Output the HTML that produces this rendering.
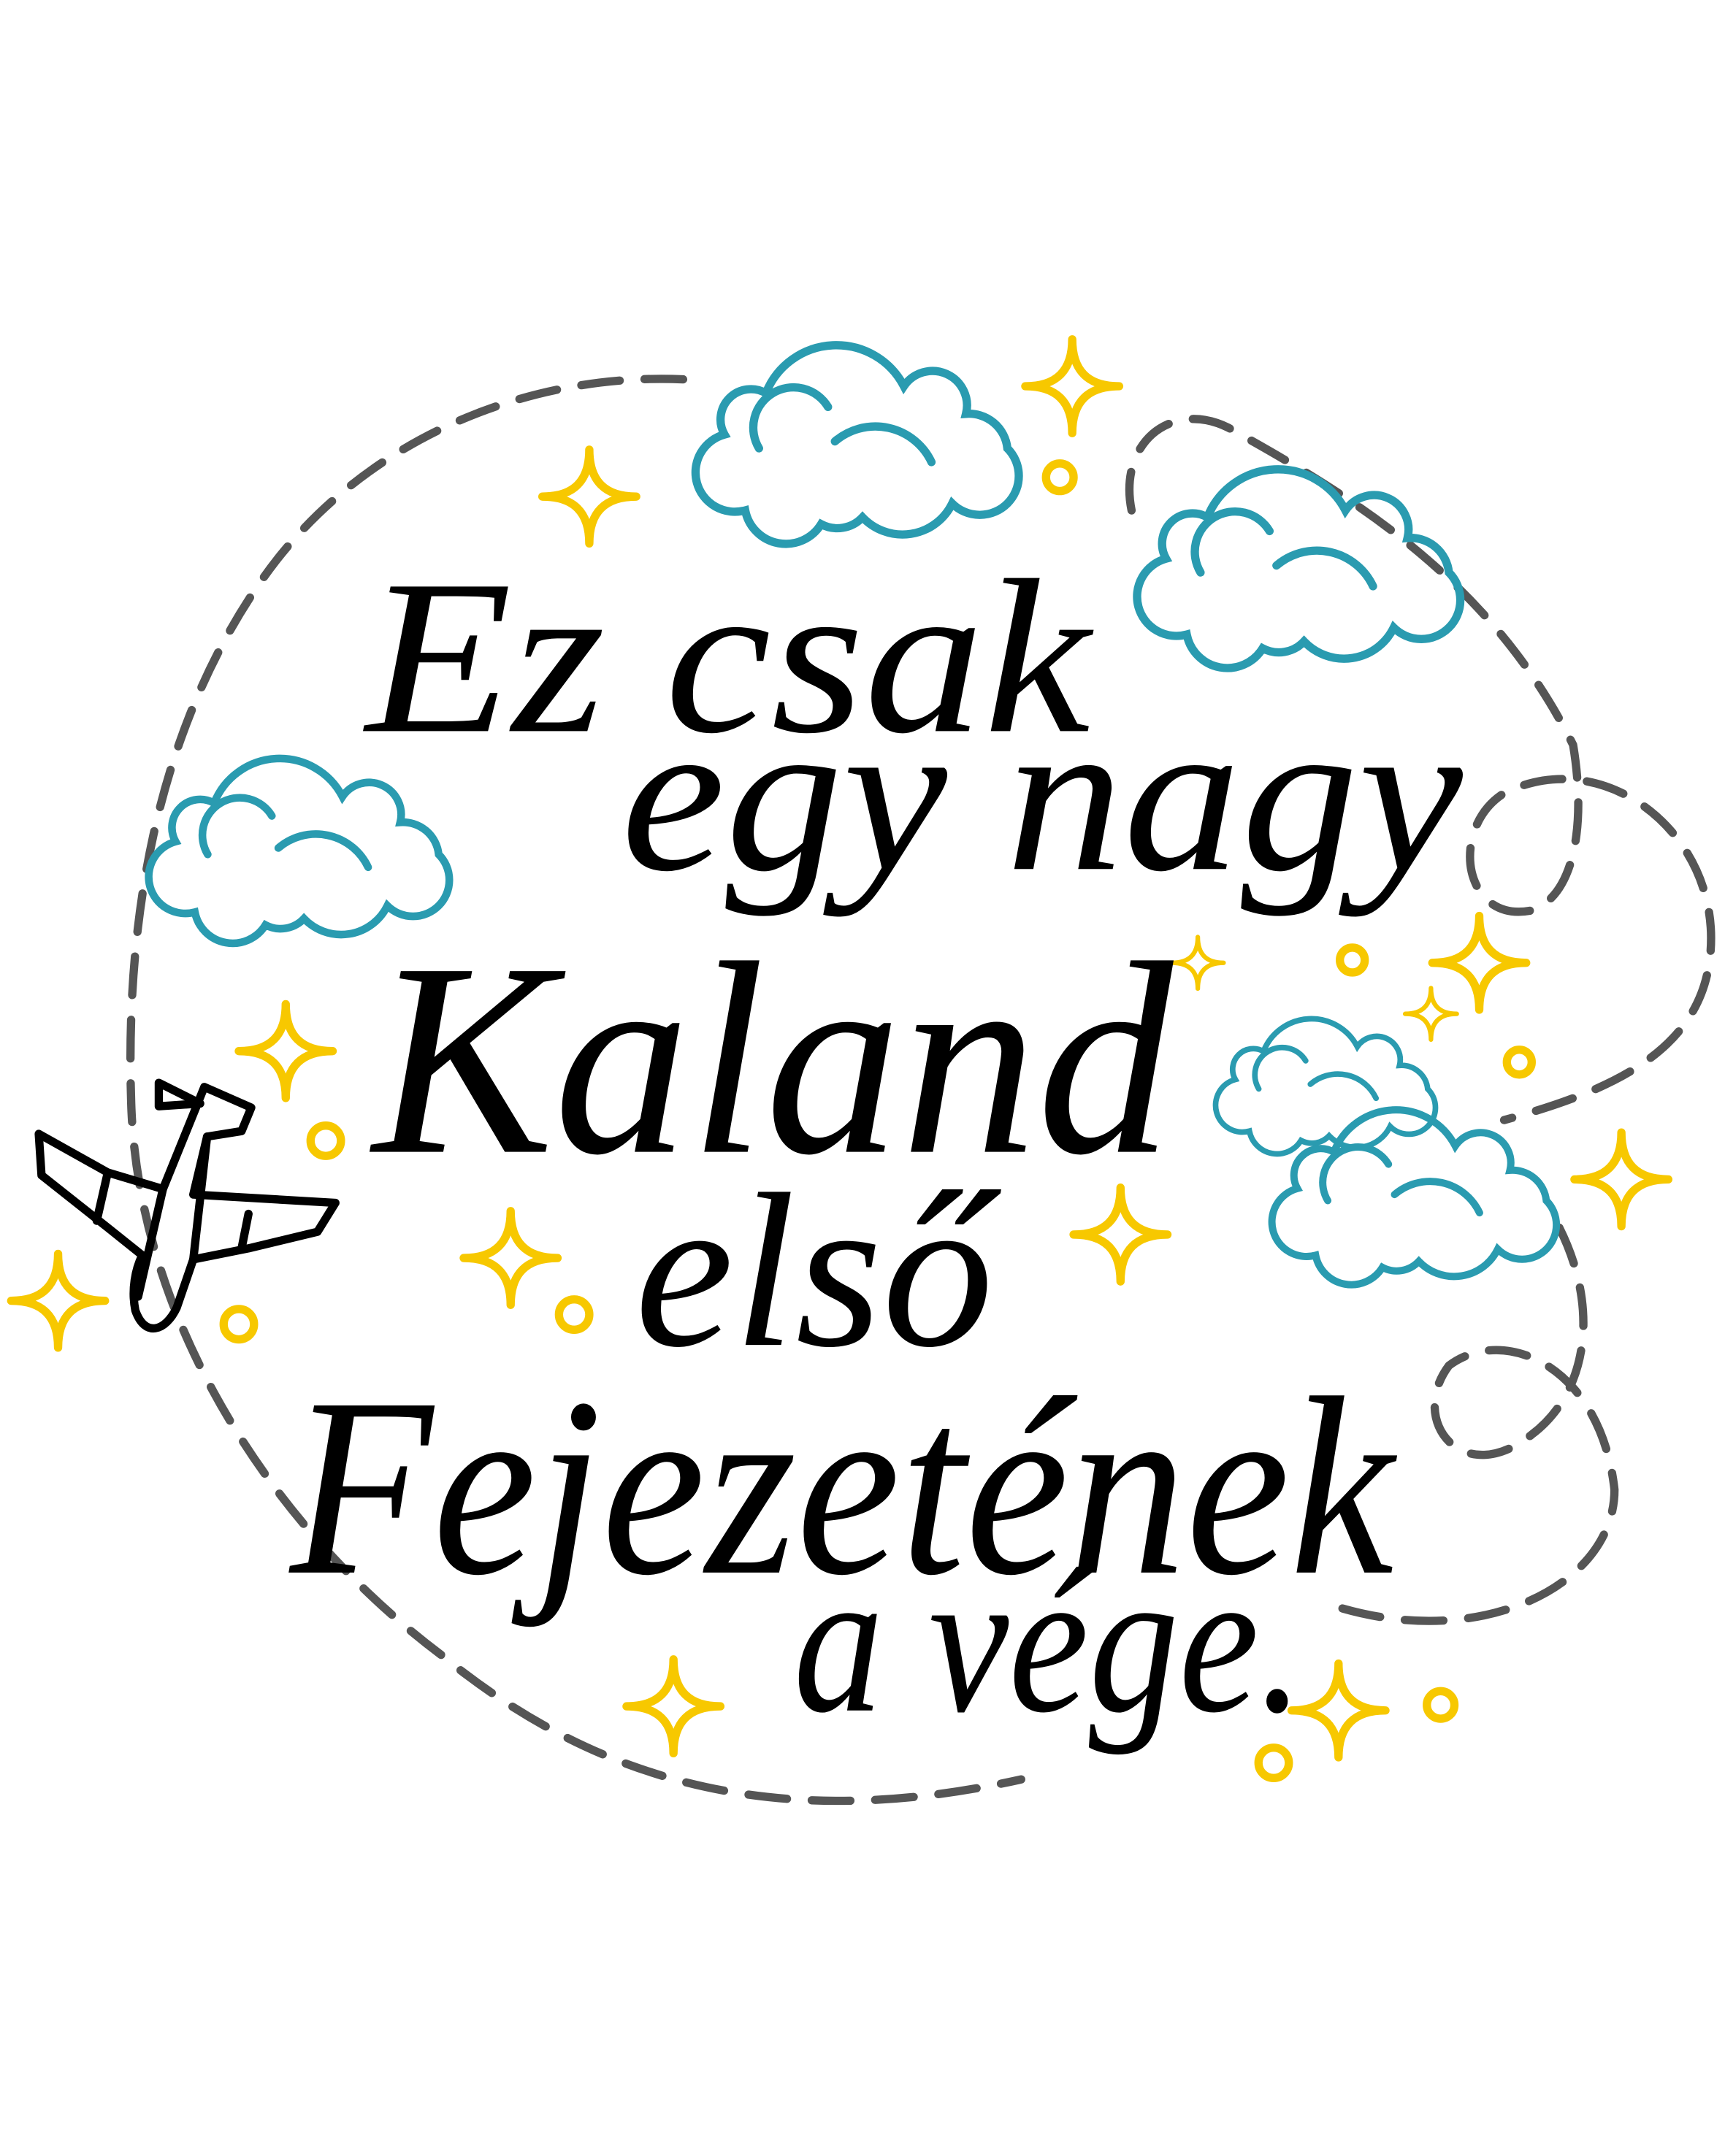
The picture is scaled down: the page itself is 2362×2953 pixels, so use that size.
<!DOCTYPE html>
<html><head><meta charset="utf-8"><style>
html,body{margin:0;padding:0;background:#fff;}
svg{display:block;}
text{font-family:"Liberation Serif",serif;font-style:italic;fill:#000;}
</style></head><body>
<svg width="2362" height="2953" viewBox="0 0 1250 1563" xmlns="http://www.w3.org/2000/svg">
<defs>
<path id="cl" d="M40 70 A28 28 0 0 0 55 125 A30 30 0 0 0 110 135 A25 25 0 0 0 140 130 A40 40 0 0 0 205 120 A28 28 0 0 0 245 80 A28 28 0 0 0 215 55 A25 25 0 0 0 170 35 A55 55 0 0 0 70 40 A22 22 0 0 0 40 70 Z M65 80 A28 28 0 0 1 115 50 M120 75 A45 45 0 0 1 190 90" fill="none" stroke="#2a9bb0" stroke-width="6" stroke-linecap="round"/>
<path id="st" d="M0 -34 Q0 0 34 0 Q0 0 0 34 Q0 0 -34 0 Q0 0 0 -34 Z" fill="none" stroke="#f7c800" stroke-width="6" stroke-linejoin="round"/>
</defs>
<g fill="none" stroke="#555" stroke-width="6" stroke-dasharray="28 18" stroke-linecap="round">
<path d="M495 275 C380 270 260 320 190 420 C120 520 90 650 95 800 C100 960 200 1110 320 1200 C430 1290 560 1330 740 1290"/>
<path d="M820 370 C810 320 850 290 890 310 C980 360 1080 420 1140 540 C1150 600 1140 650 1110 660 C1060 670 1050 600 1090 575 C1160 540 1240 600 1240 680 C1240 760 1170 790 1090 812"/>
<path d="M1130 890 C1160 950 1150 1010 1110 1040 C1060 1080 1020 1030 1050 990 C1090 960 1160 990 1170 1080 C1170 1150 1070 1200 960 1162"/>
</g>
<use href="#cl" transform="translate(485,245) scale(1)"/>
<use href="#cl" transform="translate(805,335) scale(1)"/>
<use href="#cl" transform="translate(90,545) scale(0.93)"/>
<use href="#cl" transform="translate(868,735) scale(0.68)"/>
<use href="#cl" transform="translate(905,800) scale(0.88)"/>
<use href="#st" transform="translate(777,280)"/>
<use href="#st" transform="translate(427,360)"/>
<use href="#st" transform="translate(207,762)"/>
<use href="#st" transform="translate(42,943)"/>
<use href="#st" transform="translate(370,912)"/>
<use href="#st" transform="translate(812,895)"/>
<use href="#st" transform="translate(1072,698)"/>
<use href="#st" transform="translate(868,698) scale(0.55)"/>
<use href="#st" transform="translate(1037,735) scale(0.55)"/>
<use href="#st" transform="translate(1175,855)"/>
<use href="#st" transform="translate(488,1237)"/>
<use href="#st" transform="translate(970,1240)"/>
<g fill="none" stroke="#f7c800" stroke-width="6">
<circle cx="768" cy="346" r="10"/><circle cx="980" cy="696" r="9"/><circle cx="1101" cy="770" r="9"/>
<circle cx="236" cy="827" r="11"/><circle cx="173" cy="960" r="11"/><circle cx="416" cy="953" r="11"/>
<circle cx="1044" cy="1236" r="10"/><circle cx="923" cy="1278" r="11"/>
</g>
<g fill="none" stroke="#000" stroke-width="6" stroke-linejoin="round" stroke-linecap="round">
<path d="M28 822 L78 850 L118 862 L148 788 L182 803 L175 820 L150 824 L140 866 L243 872 L230 893 L180 905 L140 913 L128 948 C120 965 105 970 98 950 C95 935 98 920 103 910 L78 890 L30 852 Z"/>
<path d="M118 862 L100 940 M150 824 L140 913 M78 850 L70 885 M180 880 L175 905 M115 785 L145 800 L115 802 Z"/>
</g>
<text x="265" y="530" font-size="160" textLength="525" lengthAdjust="spacingAndGlyphs">Ez csak</text>
<text x="450" y="630" font-size="160" textLength="610" lengthAdjust="spacingAndGlyphs">egy nagy</text>
<text x="270" y="835" font-size="200" textLength="580" lengthAdjust="spacingAndGlyphs">Kaland</text>
<text x="460" y="975" font-size="160" textLength="260" lengthAdjust="spacingAndGlyphs">első</text>
<text x="210" y="1140" font-size="185" textLength="800" lengthAdjust="spacingAndGlyphs">Fejezetének</text>
<text x="575" y="1240" font-size="150" textLength="370" lengthAdjust="spacingAndGlyphs">a vége.</text>
</svg>
</body></html>
